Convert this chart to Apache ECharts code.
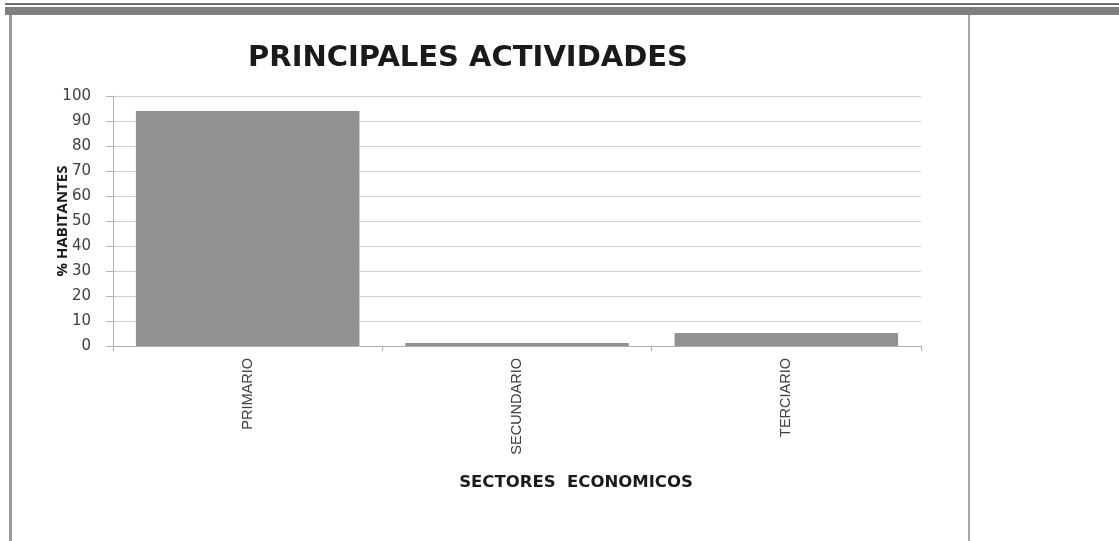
<!DOCTYPE html>
<html>
<head>
<meta charset="utf-8">
<script src="https://cdn.jsdelivr.net/npm/echarts@6/dist/echarts.min.js"></script>
<style>
html, body { margin: 0; padding: 0; background: #fff; }
#main { width: 1119px; height: 541px; }
</style>
</head>
<body>
<div id="main"></div>
<script>
// datos del grafico
var sectores = ["PRIMARIO", "SECUNDARIO", "TERCIARIO"];
var habitantes = [94, 1.2, 5.2];
var ticksY = [0, 10, 20, 30, 40, 50, 60, 70, 80, 90, 100];

var myChart = echarts.init(document.getElementById("main"));

myChart.setOption({
  backgroundColor: "#fff",
  animation: false,
  title: {
    text: "PRINCIPALES ACTIVIDADES",
    left: 463,
    top: 39,
    textAlign: "center",
    textStyle: {
      fontFamily: "DejaVu Sans",
      fontWeight: "bold",
      fontSize: 29,
      color: "#1a1a1a"
    }
  },
  // marco de la pagina
  graphic: [
    { type: "rect", shape: { x: 5, y: 3, width: 1114, height: 2 }, style: { fill: "#6f6f6f" } },
    { type: "rect", shape: { x: 5, y: 7, width: 1114, height: 8 }, style: { fill: "#7e7f82" } },
    { type: "rect", shape: { x: 9, y: 15, width: 3, height: 526 }, style: { fill: "#9a9a9a" } },
    { type: "rect", shape: { x: 968, y: 15, width: 2, height: 526 }, style: { fill: "#a6a6a6" } }
  ],
  grid: {
    left: 113,
    right: 198,
    top: 96,
    bottom: 195
  },
  xAxis: {
    type: "category",
    data: sectores,
    name: "SECTORES  ECONOMICOS",
    nameLocation: "middle",
    nameGap: 128,
    nameTextStyle: {
      fontFamily: "DejaVu Sans",
      fontWeight: "bold",
      fontSize: 16.5,
      color: "#1a1a1a",
      padding: [0, 0, 0, 118]
    },
    axisLine: { lineStyle: { color: "#b0b0b0" } },
    axisTick: { show: true, length: 5, lineStyle: { color: "#b0b0b0" } },
    axisLabel: {
      rotate: 90,
      margin: 12,
      fontFamily: "Liberation Sans",
      fontSize: 14.5,
      color: "#404040"
    }
  },
  yAxis: {
    type: "value",
    min: 0,
    max: 100,
    interval: 10,
    name: "% HABITANTES",
    nameLocation: "middle",
    nameGap: 43,
    nameMoveOverlap: false,
    nameTextStyle: {
      fontFamily: "Open Sans",
      fontWeight: "bold",
      fontSize: 15,
      color: "#1a1a1a"
    },
    axisLine: { show: true, lineStyle: { color: "#b0b0b0" } },
    axisTick: { show: true, length: 7, lineStyle: { color: "#b0b0b0" } },
    axisLabel: {
      margin: 22,
      fontFamily: "DejaVu Sans",
      fontSize: 15,
      color: "#404040",
      formatter: function (v) { return ticksY.indexOf(v) >= 0 ? String(v) : ""; }
    },
    splitLine: { lineStyle: { color: "#d0d0d0" } }
  },
  series: [
    {
      type: "bar",
      data: habitantes,
      barCategoryGap: "17%",
      itemStyle: { color: "#929292" }
    }
  ]
});
</script>
</body>
</html>
